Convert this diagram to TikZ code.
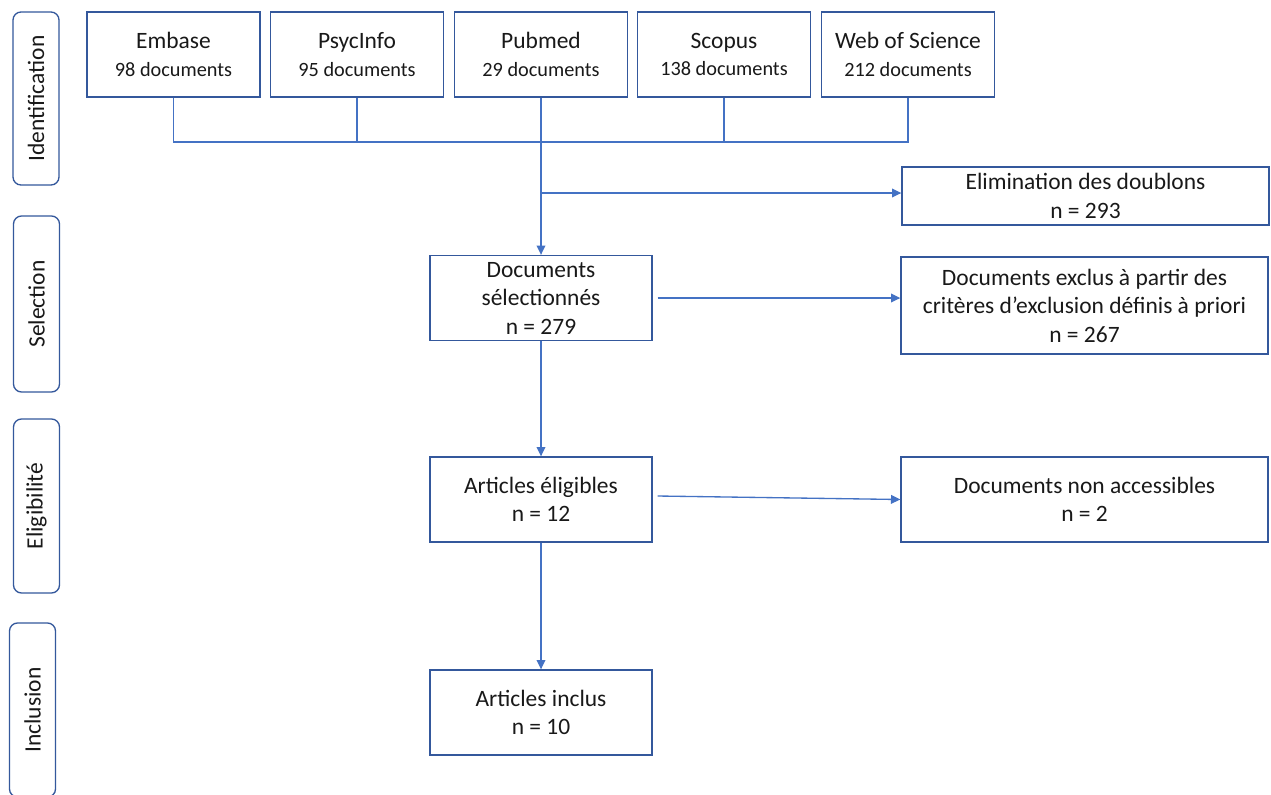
\documentclass[tikz,border=0pt]{standalone}
\usepackage{fontspec}
\setmainfont{Carlito}
\usetikzlibrary{arrows.meta}
\definecolor{lineblue}{RGB}{68,114,196}
\definecolor{boxblue}{RGB}{52,88,156}
\definecolor{txt}{RGB}{25,25,25}
\newcommand{\mainf}{\fontsize{17.6}{21.4}\selectfont}
\newcommand{\smallf}{\fontsize{15.2}{18}\selectfont}
\begin{document}
\begin{tikzpicture}[x=0.75pt,y=-0.75pt,
  box/.style={draw=boxblue, line width=1pt, fill=white, inner sep=0pt, align=center, text=txt, font=\mainf},
  srcbox/.style={box, minimum width=129.75pt, minimum height=63.75pt},
  midbox/.style={box, minimum width=166.5pt, minimum height=63.75pt},
  rightbox/.style={box, minimum width=275.25pt},
  sidebox/.style={draw=boxblue, line width=1pt, rounded corners=6pt, inner sep=0pt, minimum height=34.5pt, rotate=90, text=txt, font=\mainf},
  conn/.style={draw=lineblue, line width=1pt},
  arr/.style={conn, -{Triangle[length=7pt,width=6.5pt]}}
]
\useasboundingbox (0,0) rectangle (1271,794);
\fill[white] (0,0) rectangle (1271,794);

% phase labels
\node[sidebox, minimum width=129.75pt] (ident) at (36,98.5) {Identification};
\node[sidebox, minimum width=132pt] (selec) at (36.5,304) {Selection};
\node[sidebox, minimum width=130.5pt] (eligl) at (36.5,506) {Eligibilité};
\node[sidebox, minimum width=130.5pt] (inclu) at (32.5,710) {Inclusion};

% sources
\node[srcbox] (embase) at (173.5,54.5) {Embase\\[-1pt]{\smallf 98 documents}};
\node[srcbox] (psyc) at (357,54.5) {PsycInfo\\[-1pt]{\smallf 95 documents}};
\node[srcbox] (pubmed) at (541,54.5) {Pubmed\\[-1pt]{\smallf 29 documents}};
\node[srcbox] (scopus) at (724,54.5) {Scopus\\[-1pt]{\smallf 138 documents}};
\node[srcbox] (wos) at (908,54.5) {Web of Science\\[-1pt]{\smallf 212 documents}};

% main column
\node[midbox] (docs) at (541,298) {Documents\\sélectionnés\\n = 279};
\node[midbox] (elig) at (541,499.5) {Articles éligibles\\n = 12};
\node[midbox] (incl) at (541,712.5) {Articles inclus\\n = 10};

% right column
\node[rightbox, minimum height=43.5pt] (elim) at (1085.5,196) {Elimination des doublons\\n = 293};
\node[rightbox, minimum height=72.75pt] (exclus) at (1084.5,305.5) {Documents exclus à partir des\\critères d’exclusion définis à priori\\n = 267};
\node[rightbox, minimum height=63.75pt] (nonacc) at (1084.5,499.5) {Documents non accessibles\\n = 2};

% connectors
\coordinate (bar) at (541,142);
\draw[conn] (embase.south) |- (bar);
\draw[conn] (wos.south) |- (bar);
\draw[conn] (psyc.south) -- (psyc.south |- bar);
\draw[conn] (scopus.south) -- (scopus.south |- bar);
\draw[arr] (pubmed.south) -- (docs.north);
\coordinate (br) at (542,193);
\draw[arr] (br) -- (br -| elim.west);
\draw[arr] ([xshift=3.75pt]docs.east) -- (docs.east -| exclus.west);
\draw[arr] (docs.south) -- (elig.north);
\draw[arr] ([shift={(5,-3.5)}]elig.east) -- (nonacc.west);
\draw[arr] (elig.south) -- (incl.north);
\end{tikzpicture}
\end{document}
